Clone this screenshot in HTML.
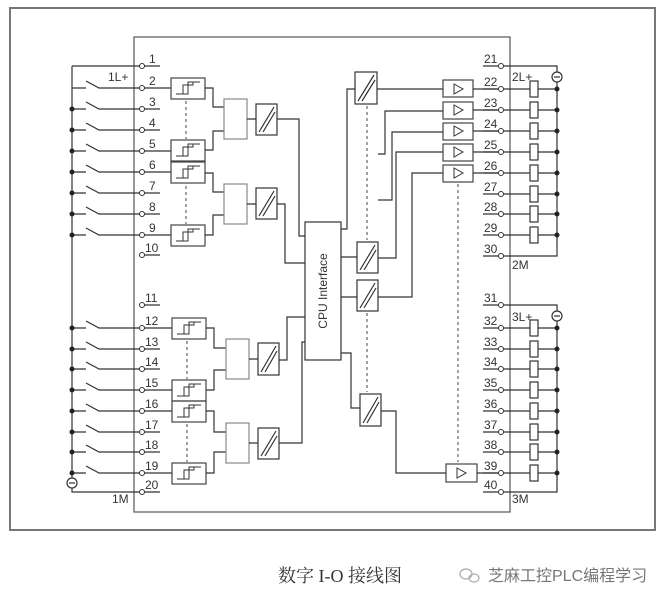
<!DOCTYPE html>
<html><head><meta charset="utf-8"><style>
html,body{margin:0;padding:0;background:#fff;}
svg{display:block;}
text{font-family:"Liberation Sans",sans-serif;font-size:12px;fill:#333;}
</style></head><body>
<svg width="662" height="602" viewBox="0 0 662 602" xmlns="http://www.w3.org/2000/svg">
<g fill="none" stroke="#333" stroke-width="1.2">
<rect x="10" y="8" width="645" height="522" stroke="#777" stroke-width="2"/>
<rect x="134" y="37" width="376" height="475" stroke="#555"/>
<path d="M72 66 V478 M72 488 V492 H142 M72 66 H142"/>
<circle cx="72" cy="483" r="5"/><path d="M69 483 H75"/>
<path d="M72 88H86M86 81L99 88H142
M72 109H86M86 102L99 109H142
M72 130H86M86 123L99 130H142
M72 151H86M86 144L99 151H142
M72 172H86M86 165L99 172H142
M72 193H86M86 186L99 193H142
M72 214H86M86 207L99 214H142
M72 235H86M86 228L99 235H142
M72 328H86M86 321L99 328H142
M72 349H86M86 342L99 349H142
M72 369H86M86 362L99 369H142
M72 390H86M86 383L99 390H142
M72 411H86M86 404L99 411H142
M72 432H86M86 425L99 432H142
M72 452H86M86 445L99 452H142
M72 473H86M86 466L99 473H142"/>
<path d="M142 66H160M142 88H171M142 109H160M142 130H160M142 151H171M142 172H171M142 193H160M142 214H160M142 235H171M142 255H160
M142 305H160M142 328H172M142 349H160M142 369H160M142 390H172M142 411H172M142 432H160M142 452H160M142 473H172M142 492H160"/>
<g stroke="#444">
<rect x="171" y="78" width="34" height="21"/><rect x="171" y="140" width="34" height="21"/>
<rect x="171" y="162" width="34" height="21"/><rect x="171" y="225" width="34" height="21"/>
<rect x="172" y="318" width="34" height="21"/><rect x="172" y="380" width="34" height="21"/>
<rect x="172" y="401" width="34" height="21"/><rect x="172" y="463" width="34" height="21"/>
</g>
<g stroke-width="1">
<path d="M176 94H188V82H200M183 94V85H193V82"/>
<path d="M176 156H188V144H200M183 156V147H193V144"/>
<path d="M176 178H188V166H200M183 178V169H193V166"/>
<path d="M176 241H188V229H200M183 241V232H193V229"/>
<path d="M177 334H189V322H201M184 334V325H194V322"/>
<path d="M177 396H189V384H201M184 396V387H194V384"/>
<path d="M177 417H189V405H201M184 417V408H194V405"/>
<path d="M177 479H189V467H201M184 479V470H194V467"/>
</g>
<path d="M186 101V139M186 186V224M187 341V379M187 424V462" stroke-dasharray="3,3" stroke="#666"/>
<path d="M205 88H213V107H224M205 150H213V131H224M205 173H213V192H224M205 235H213V215H224
M206 328H214V348H226M206 390H214V370H226M206 411H214V432H226M206 473H214V452H226"/>
<g stroke="#888"><rect x="224" y="99" width="23" height="40"/><rect x="224" y="184" width="23" height="40"/>
<rect x="226" y="339" width="23" height="40"/><rect x="226" y="423" width="23" height="40"/></g>
<path d="M247 119H256M247 204H256M249 359H258M249 443H258"/>
<g>
<rect x="256" y="104" width="21" height="31"/><path d="M259 132L274 107M263 132L275 112"/>
<rect x="256" y="188" width="21" height="31"/><path d="M259 216L274 191M263 216L275 196"/>
<rect x="258" y="343" width="21" height="32"/><path d="M261 372L276 346M265 372L277 351"/>
<rect x="258" y="428" width="21" height="31"/><path d="M261 456L276 431M265 456L277 436"/>
<rect x="355" y="72" width="22" height="32"/><path d="M358 101L374 75M362 101L375 80"/>
<rect x="357" y="242" width="21" height="31"/><path d="M360 270L375 245M364 270L376 250"/>
<rect x="357" y="280" width="21" height="31"/><path d="M360 308L375 283M364 308L376 288"/>
<rect x="360" y="394" width="21" height="32"/><path d="M363 423L378 397M367 423L379 402"/>
</g>
<path d="M277 119H299V236H305M277 204H285V263H305M279 360H287V317H305M279 443H302V342H305"/>
<rect x="305" y="222" width="36" height="138"/>
<path d="M341 229H347V89H355M341 257H357M341 297H357M341 353H351V408H360"/>
<path d="M367 106V240M367 313V392" stroke-dasharray="3,3" stroke="#666"/>
<path d="M458 184V462" stroke-dasharray="3,3" stroke="#666"/>
<path d="M377 89H443M378 154H385V111H443M378 200H392V132H443M378 258H396V152H443M378 297H412V173H443M381 411H396V473H446"/>
<g stroke="#444">
<rect x="443" y="80" width="30" height="17"/><rect x="443" y="102" width="30" height="17"/>
<rect x="443" y="123" width="30" height="17"/><rect x="443" y="144" width="30" height="17"/>
<rect x="443" y="165" width="30" height="17"/><rect x="446" y="464" width="31" height="18"/>
</g>
<path d="M454 84L463 89L454 94Z M454 105L463 110L454 115Z M454 126L463 131L454 136Z M454 147L463 152L454 157Z M454 168L463 173L454 178Z M457 468L466 473L457 478Z" stroke-width="1"/>
<path d="M473 89H501M473 110H501M473 131H501M473 152H501M473 173H501M477 473H501"/>
<path d="M483 66H557V72M557 82V256H501M483 89H501M483 110H501M483 131H501M483 152H501M483 173H501M483 194H501M483 214H501M483 235H501M483 256H501
M483 305H557V311M557 321V492H501M483 328H501M483 349H501M483 369H501M483 390H501M483 411H501M483 432H501M483 452H501M483 473H501M483 492H501"/>
<circle cx="557" cy="77" r="5"/><path d="M554 77H560"/>
<circle cx="557" cy="316" r="5"/><path d="M554 316H560"/>
<path d="M501 89H557M501 110H557M501 131H557M501 152H557M501 173H557M501 194H557M501 214H557M501 235H557
M501 328H557M501 349H557M501 369H557M501 390H557M501 411H557M501 432H557M501 452H557M501 473H557"/>
<g fill="#fff">
<rect x="530" y="81" width="8" height="16"/><rect x="530" y="102" width="8" height="16"/><rect x="530" y="123" width="8" height="16"/><rect x="530" y="144" width="8" height="16"/><rect x="530" y="165" width="8" height="16"/><rect x="530" y="186" width="8" height="16"/><rect x="530" y="206" width="8" height="16"/><rect x="530" y="227" width="8" height="16"/>
<rect x="530" y="320" width="8" height="16"/><rect x="530" y="341" width="8" height="16"/><rect x="530" y="361" width="8" height="16"/><rect x="530" y="382" width="8" height="16"/><rect x="530" y="403" width="8" height="16"/><rect x="530" y="424" width="8" height="16"/><rect x="530" y="444" width="8" height="16"/><rect x="530" y="465" width="8" height="16"/>
</g>
</g>
<g fill="#fff" stroke="#333" stroke-width="1">
<circle cx="142" cy="66" r="2.5"/><circle cx="142" cy="88" r="2.5"/><circle cx="142" cy="109" r="2.5"/><circle cx="142" cy="130" r="2.5"/><circle cx="142" cy="151" r="2.5"/><circle cx="142" cy="172" r="2.5"/><circle cx="142" cy="193" r="2.5"/><circle cx="142" cy="214" r="2.5"/><circle cx="142" cy="235" r="2.5"/><circle cx="142" cy="255" r="2.5"/>
<circle cx="142" cy="305" r="2.5"/><circle cx="142" cy="328" r="2.5"/><circle cx="142" cy="349" r="2.5"/><circle cx="142" cy="369" r="2.5"/><circle cx="142" cy="390" r="2.5"/><circle cx="142" cy="411" r="2.5"/><circle cx="142" cy="432" r="2.5"/><circle cx="142" cy="452" r="2.5"/><circle cx="142" cy="473" r="2.5"/><circle cx="142" cy="492" r="2.5"/>
<circle cx="501" cy="66" r="2.5"/><circle cx="501" cy="89" r="2.5"/><circle cx="501" cy="110" r="2.5"/><circle cx="501" cy="131" r="2.5"/><circle cx="501" cy="152" r="2.5"/><circle cx="501" cy="173" r="2.5"/><circle cx="501" cy="194" r="2.5"/><circle cx="501" cy="214" r="2.5"/><circle cx="501" cy="235" r="2.5"/><circle cx="501" cy="256" r="2.5"/>
<circle cx="501" cy="305" r="2.5"/><circle cx="501" cy="328" r="2.5"/><circle cx="501" cy="349" r="2.5"/><circle cx="501" cy="369" r="2.5"/><circle cx="501" cy="390" r="2.5"/><circle cx="501" cy="411" r="2.5"/><circle cx="501" cy="432" r="2.5"/><circle cx="501" cy="452" r="2.5"/><circle cx="501" cy="473" r="2.5"/><circle cx="501" cy="492" r="2.5"/>
</g>
<g fill="#222">
<circle cx="72" cy="109" r="2.5"/><circle cx="72" cy="130" r="2.5"/><circle cx="72" cy="151" r="2.5"/><circle cx="72" cy="172" r="2.5"/><circle cx="72" cy="193" r="2.5"/><circle cx="72" cy="214" r="2.5"/><circle cx="72" cy="235" r="2.5"/>
<circle cx="72" cy="328" r="2.5"/><circle cx="72" cy="349" r="2.5"/><circle cx="72" cy="369" r="2.5"/><circle cx="72" cy="390" r="2.5"/><circle cx="72" cy="411" r="2.5"/><circle cx="72" cy="432" r="2.5"/><circle cx="72" cy="452" r="2.5"/><circle cx="72" cy="473" r="2.5"/>
<circle cx="557" cy="89" r="2.5"/><circle cx="557" cy="110" r="2.5"/><circle cx="557" cy="131" r="2.5"/><circle cx="557" cy="152" r="2.5"/><circle cx="557" cy="173" r="2.5"/><circle cx="557" cy="194" r="2.5"/><circle cx="557" cy="214" r="2.5"/><circle cx="557" cy="235" r="2.5"/>
<circle cx="557" cy="328" r="2.5"/><circle cx="557" cy="349" r="2.5"/><circle cx="557" cy="369" r="2.5"/><circle cx="557" cy="390" r="2.5"/><circle cx="557" cy="411" r="2.5"/><circle cx="557" cy="432" r="2.5"/><circle cx="557" cy="452" r="2.5"/><circle cx="557" cy="473" r="2.5"/>
</g>
<g>
<text x="149" y="63">1</text><text x="149" y="85">2</text><text x="149" y="106">3</text><text x="149" y="127">4</text><text x="149" y="148">5</text><text x="149" y="169">6</text><text x="149" y="190">7</text><text x="149" y="211">8</text><text x="149" y="232">9</text><text x="145" y="252">10</text>
<text x="145" y="302">11</text><text x="145" y="325">12</text><text x="145" y="346">13</text><text x="145" y="366">14</text><text x="145" y="387">15</text><text x="145" y="408">16</text><text x="145" y="429">17</text><text x="145" y="449">18</text><text x="145" y="470">19</text><text x="145" y="489">20</text>
<text x="484" y="63">21</text><text x="484" y="86">22</text><text x="484" y="107">23</text><text x="484" y="128">24</text><text x="484" y="149">25</text><text x="484" y="170">26</text><text x="484" y="191">27</text><text x="484" y="211">28</text><text x="484" y="232">29</text><text x="484" y="253">30</text>
<text x="484" y="302">31</text><text x="484" y="325">32</text><text x="484" y="346">33</text><text x="484" y="366">34</text><text x="484" y="387">35</text><text x="484" y="408">36</text><text x="484" y="429">37</text><text x="484" y="449">38</text><text x="484" y="470">39</text><text x="484" y="489">40</text>
<text x="108" y="81" font-size="11">1L+</text><text x="112" y="503" font-size="11">1M</text>
<text x="512" y="81" font-size="11">2L+</text><text x="512" y="269" font-size="11">2M</text>
<text x="512" y="321" font-size="11">3L+</text><text x="512" y="503" font-size="11">3M</text>
<text transform="translate(327,291) rotate(-90)" text-anchor="middle" font-size="12">CPU Interface</text>
</g>
<text x="278" y="582" style="font-family:'Liberation Serif','Noto Serif CJK SC',serif;font-size:18px;fill:#333">数字 I-O 接线图</text>
<g fill="none" stroke="#aaa" stroke-width="1.2"><ellipse cx="466" cy="574" rx="6" ry="5"/><ellipse cx="474" cy="578" rx="5" ry="4"/></g>
<text x="488" y="581" style="font-family:'Liberation Sans','Noto Sans CJK SC',sans-serif;font-size:16px;fill:#777">芝麻工控PLC编程学习</text>
</svg>
</body></html>
